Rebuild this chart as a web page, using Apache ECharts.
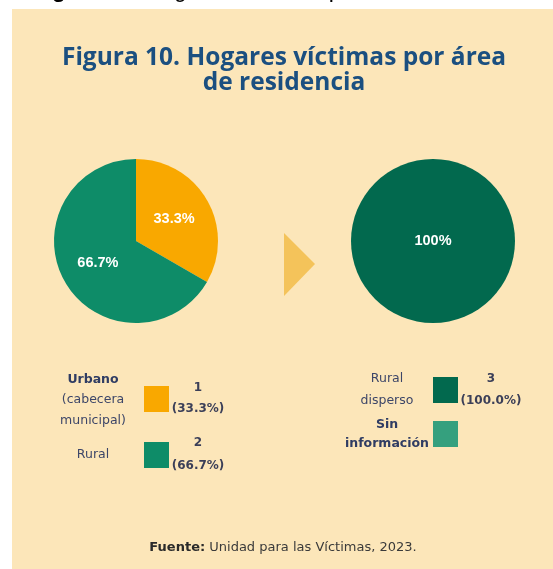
<!DOCTYPE html>
<html>
<head>
<meta charset="utf-8">
<script src="https://cdn.jsdelivr.net/npm/echarts@6/dist/echarts.min.js"></script>
<style>
html,body{margin:0;padding:0;background:#ffffff;}
#c{width:553px;height:569px;}
</style>
</head>
<body>
<div id="c"></div>
<script>
// Data
const leftNames = ['Urbano', 'Rural'];
const leftLegendLines = [['Urbano', '(cabecera', 'municipal)'], ['Rural']];
const leftValues = [1, 2];
const leftColors = ['#f9a800', '#0e8c68'];

const rightNames = ['Rural disperso', 'Sin información'];
const rightLegendLines = [['Rural', 'disperso'], ['Sin', 'información']];
const rightValues = [3, 0];
const rightColors = ['#02694e', '#35a07e'];

const titleLines = ['Figura 10. Hogares víctimas por área', 'de residencia'];
const sourceText = 'Unidad para las Víctimas, 2023.';

const chart = echarts.init(document.getElementById('c'), null, {renderer: 'canvas'});

const total = a => a.reduce((s, v) => s + v, 0);
const pctText = (v, t) => { const p = v / t * 100; return p.toFixed(1) + '%'; };

function pieLabelFmt(p) {
  if (!p.value) return '';
  if (p.percent === 100) return '100%';
  return p.percent.toFixed(1) + '%';
}

const graphics = [];
// background panel
graphics.push({type: 'rect', z: -10, shape: {x: 12, y: 9, width: 541, height: 560}, style: {fill: '#fce6b9'}});
// cut-off caption above
graphics.push({type: 'text', x: 32, y: -9, style: {
  text: '{b|Figura 10.} Hogares víctimas por área de residencia',
  verticalAlign: 'middle', fill: '#000',
  rich: {b: {fontWeight: 'bold', fontSize: 22.5, fontFamily: 'Liberation Sans', fill: '#000'}},
  fontSize: 23, fontFamily: 'Liberation Sans'
}});
// title
titleLines.forEach((t, i) => {
  graphics.push({type: 'text', x: 284, y: 58 + i * 25.5, style: {
    text: t, align: 'center', verticalAlign: 'middle',
    fontFamily: 'Open Sans', fontWeight: 'bold', fontSize: 24.5, fill: '#1b4f80'
  }});
});
// arrow
graphics.push({type: 'polygon', shape: {points: [[284, 233], [315, 264], [284, 296]]}, style: {fill: '#f4c35a'}});

const labelFont = {fontFamily: 'DejaVu Sans', fontSize: 12.5, fill: '#3d4668'};
const valFont = {fontFamily: 'DejaVu Sans', fontSize: 12, fontWeight: 'bold', fill: '#3b3f58'};

// left legend
const leftRows = [{y: 386, labelY: [380, 400, 421], valY: [388, 409]}, {y: 442, labelY: [455], valY: [443, 466]}];
leftValues.forEach((v, i) => {
  const r = leftRows[i];
  leftLegendLines[i].forEach((ln, k) => {
    graphics.push({type: 'text', x: 93, y: r.labelY[k], style: Object.assign({text: ln, align: 'center', verticalAlign: 'middle'}, labelFont, (i === 0 && k === 0) ? {fontWeight: 'bold', fill: '#2f3c63'} : {})});
  });
  graphics.push({type: 'rect', shape: {x: 144, y: r.y, width: 25, height: 26}, style: {fill: leftColors[i]}});
  graphics.push({type: 'text', x: 198, y: r.valY[0], style: Object.assign({text: String(v), align: 'center', verticalAlign: 'middle'}, valFont)});
  graphics.push({type: 'text', x: 198, y: r.valY[1], style: Object.assign({text: '(' + pctText(v, total(leftValues)) + ')', align: 'center', verticalAlign: 'middle'}, valFont)});
});

// right legend
const rightRows = [{y: 377, labelY: [379, 401], valY: [379, 401]}, {y: 421, labelY: [425, 444], valY: []}];
rightValues.forEach((v, i) => {
  const r = rightRows[i];
  rightLegendLines[i].forEach((ln, k) => {
    graphics.push({type: 'text', x: 387, y: r.labelY[k], style: Object.assign({text: ln, align: 'center', verticalAlign: 'middle'}, labelFont, i === 1 ? {fontWeight: 'bold', fill: '#2f3c63'} : {})});
  });
  graphics.push({type: 'rect', shape: {x: 433, y: r.y, width: 25, height: 26}, style: {fill: rightColors[i]}});
  if (v) {
    graphics.push({type: 'text', x: 491, y: r.valY[0], style: Object.assign({text: String(v), align: 'center', verticalAlign: 'middle'}, valFont)});
    graphics.push({type: 'text', x: 491, y: r.valY[1], style: Object.assign({text: '(' + pctText(v, total(rightValues)) + ')', align: 'center', verticalAlign: 'middle'}, valFont)});
  }
});

// source
graphics.push({type: 'text', x: 283, y: 548, style: {
  text: '{b|Fuente:} ' + sourceText, align: 'center', verticalAlign: 'middle',
  fontFamily: 'DejaVu Sans', fontSize: 13, fill: '#3a3a3a',
  rich: {b: {fontWeight: 'bold', fontFamily: 'DejaVu Sans', fontSize: 13, fill: '#2a2a2a'}}
}});

chart.setOption({
  animation: false,
  backgroundColor: 'transparent',
  graphic: graphics,
  series: [
    {
      type: 'pie', center: [136, 241], radius: [0, 82], startAngle: 90, clockwise: true,
      silent: true, percentPrecision: 1,
      data: leftNames.map((n, i) => ({name: n, value: leftValues[i], itemStyle: {color: leftColors[i]}})),
      label: {position: 'inside', formatter: pieLabelFmt, color: '#ffffff', fontFamily: 'Liberation Sans', fontWeight: 'bold', fontSize: 14.5},
      labelLine: {show: false}
    },
    {
      type: 'pie', center: [433, 241], radius: [0, 82], startAngle: 90, clockwise: true,
      silent: true, percentPrecision: 1,
      data: rightNames.map((n, i) => ({name: n, value: rightValues[i], itemStyle: {color: rightColors[i]}})),
      label: {position: 'center', formatter: pieLabelFmt, color: '#ffffff', fontFamily: 'Liberation Sans', fontWeight: 'bold', fontSize: 14.5},
      labelLine: {show: false}
    }
  ]
});
</script>
</body>
</html>
